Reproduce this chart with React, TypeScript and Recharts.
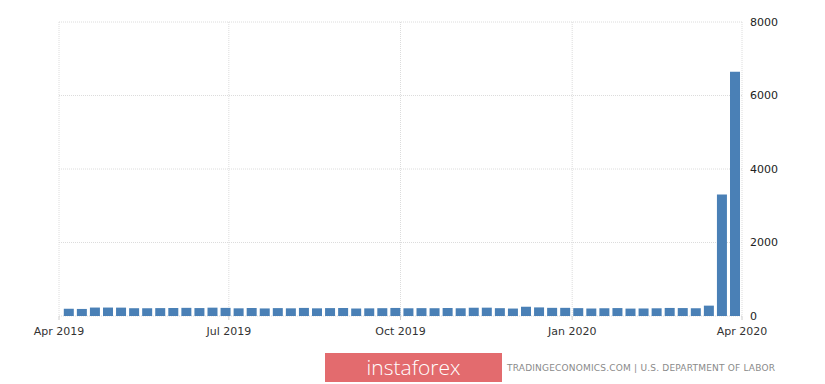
import { Bar, BarChart, CartesianGrid, XAxis, YAxis } from "recharts";

// week ending dates, initial jobless claims (thousands)
const weeks = [
  "2019-04-06", "2019-04-13", "2019-04-20", "2019-04-27", "2019-05-04", "2019-05-11",
  "2019-05-18", "2019-05-25", "2019-06-01", "2019-06-08", "2019-06-15", "2019-06-22",
  "2019-06-29", "2019-07-06", "2019-07-13", "2019-07-20", "2019-07-27", "2019-08-03",
  "2019-08-10", "2019-08-17", "2019-08-24", "2019-08-31", "2019-09-07", "2019-09-14",
  "2019-09-21", "2019-09-28", "2019-10-05", "2019-10-12", "2019-10-19", "2019-10-26",
  "2019-11-02", "2019-11-09", "2019-11-16", "2019-11-23", "2019-11-30", "2019-12-07",
  "2019-12-14", "2019-12-21", "2019-12-28", "2020-01-04", "2020-01-11", "2020-01-18",
  "2020-01-25", "2020-02-01", "2020-02-08", "2020-02-15", "2020-02-22", "2020-02-29",
  "2020-03-07", "2020-03-14", "2020-03-21", "2020-03-28",
];
const claims = [
  196, 192, 230, 230, 228, 212, 211, 215, 218, 222, 216, 227,
  221, 209, 216, 206, 215, 209, 220, 209, 215, 217, 204, 208,
  213, 219, 210, 214, 212, 218, 211, 225, 227, 213, 203, 252,
  234, 222, 222, 214, 204, 211, 216, 202, 205, 210, 219, 216,
  211, 282, 3307, 6648,
];
const xTickDates = ["2019-04-01", "2019-07-01", "2019-10-01", "2020-01-01", "2020-04-01"];
const yTicks = [0, 2000, 4000, 6000, 8000];

const toTime = (s: string) => {
  const [y, m, d] = s.split("-").map(Number);
  return Date.UTC(y, m - 1, d);
};
const months = ["Jan", "Feb", "Mar", "Apr", "May", "Jun", "Jul", "Aug", "Sep", "Oct", "Nov", "Dec"];
const fmtDate = (t: number) => {
  const d = new Date(t);
  return `${months[d.getUTCMonth()]} ${d.getUTCFullYear()}`;
};

const data = weeks.map((w, i) => ({ t: toTime(w), claims: claims[i] }));
const xTicks = xTickDates.map(toTime);

const font = "'DejaVu Sans', Verdana, sans-serif";

export default function App() {
  return (
    <div style={{ position: "absolute", left: 0, top: 0, width: 825, height: 384, background: "#fff" }}>
      <BarChart width={825} height={384} data={data} margin={{ top: 22, right: 43, left: 59, bottom: 38 }}>
        <CartesianGrid stroke="#dcdcdc" strokeDasharray="1 1" />
        <XAxis
          dataKey="t"
          type="number"
          scale="time"
          domain={[xTicks[0], xTicks[xTicks.length - 1]]}
          ticks={xTicks}
          tickFormatter={fmtDate}
          height={30}
          axisLine={false}
          tickSize={4}
          tickLine={{ stroke: "#cccccc" }}
          tickMargin={7}
          tick={{ fill: "#333", fontSize: 11, fontFamily: font }}
        />
        <YAxis
          orientation="right"
          domain={[0, 8000]}
          ticks={yTicks}
          width={40}
          axisLine={false}
          tickLine={false}
          tickSize={0}
          tickMargin={8}
          tick={{ fill: "#222", fontSize: 11, fontFamily: font, textAnchor: "start" }}
        />
        <Bar dataKey="claims" fill="#4a80b6" barSize={10} isAnimationActive={false} />
      </BarChart>
      <div
        style={{
          position: "absolute", left: 325, top: 353, width: 177, height: 29,
          background: "#e36b6e", color: "#fff", fontFamily: "'Open Sans', sans-serif",
          fontSize: 21, fontWeight: 300, lineHeight: "28px", textAlign: "center",
        }}
      >
        instaforex
      </div>
      <svg style={{ position: "absolute", left: 0, top: 0 }} width={825} height={384}>
        <text x={507} y={371} fill="#8a8a8a" fontSize={9} fontFamily={font} textLength={268} lengthAdjust="spacing">
          TRADINGECONOMICS.COM | U.S. DEPARTMENT OF LABOR
        </text>
      </svg>
    </div>
  );
}
